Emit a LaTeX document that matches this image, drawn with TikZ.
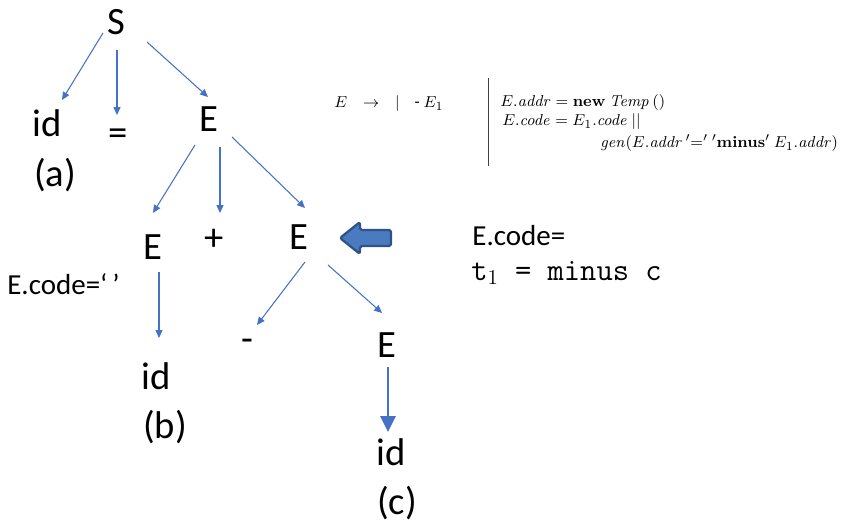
\documentclass[tikz,border=0pt]{standalone}
\usepackage{amsmath,amssymb}
\usepackage[no-math]{fontspec}
\setmainfont{Carlito}
\usepackage{tikz}
\usetikzlibrary{arrows.meta,calc}
\definecolor{linkblue}{RGB}{68,114,196}
\definecolor{pointerfill}{RGB}{74,122,192}
\definecolor{pointeredge}{RGB}{47,82,135}

\begin{document}
\begin{tikzpicture}[x=0.02cm, y=-0.02cm,
    sym/.style={inner sep=0pt, font=\fontsize{22}{26}\selectfont},
    note/.style={inner sep=0pt, anchor=west, font=\fontsize{16.5}{19}\selectfont},
    rule/.style={inner sep=0pt, anchor=west, font=\fontsize{9.5}{11}\selectfont},
    arrow/.style={line width=0.6pt, -{Triangle[length=4.5pt,width=4pt]}, color=linkblue},
    bigarrow/.style={line width=1.4pt, -{Triangle[length=9pt,width=8.5pt]}, color=linkblue},
    pointer/.style={fill=pointerfill, draw=pointeredge, line width=1.3pt, rounded corners=1pt, line join=round},
    rulebar/.style={line width=0.5pt, color=black!75}
]
    \useasboundingbox (0,0) rectangle (849,523);

    % parse tree
    \node[sym] (S) at (116,22) {S};
    \node[sym] (ida) at (47,123) {id};
    \node[sym] (pa) at (55,175) {(a)};
    \node[sym] (eq) at (118,137) {=};
    \node[sym] (e1) at (209,119) {E};
    \node[sym] (e2) at (153,247) {E};
    \node[sym] (plus) at (214,240) {+};
    \node[sym] (e3) at (299,237) {E};
    \node[sym] (idb) at (156,376) {id};
    \node[sym] (pb) at (165,427) {(b)};
    \node[sym] (minus) at (247,345) {-};
    \node[sym] (e4) at (387,345) {E};
    \node[sym] (idc) at (391,452) {id};
    \node[sym] (pc) at (397,503) {(c)};

    \draw[arrow] ([shift={(-13,11)}]S.center) -- ([shift={(15,-23)}]ida.center);
    \draw[arrow] ([shift={(1,28)}]S.center) -- ([shift={(-1,-22)}]eq.center);
    \draw[arrow] ([shift={(31,20)}]S.center) -- ([shift={(-1,-22)}]e1.center);
    \draw[arrow] ([shift={(-14,26)}]e1.center) -- ([shift={(0,-34)}]e2.center);
    \draw[arrow] ([shift={(11,28)}]e1.center) -- ([shift={(6,-27)}]plus.center);
    \draw[arrow] ([shift={(23,18)}]e1.center) -- ([shift={(6,-29)}]e3.center);
    \draw[arrow] ([shift={(6,25)}]e2.center) -- ([shift={(3,-38)}]idb.center);
    \draw[arrow] ([shift={(6,25)}]e3.center) -- ([shift={(10,-20)}]minus.center);
    \draw[arrow] ([shift={(29,28)}]e3.center) -- ([shift={(-5,-32)}]e4.center);
    \draw[bigarrow] ([shift={(1,22)}]e4.center) -- ([shift={(-3,-20)}]idc.center);

    % attribute values
    \node[note] (codeb) at (7,284) {E.code=‘\,’};
    \node[note] (codec) at (472,236) {E.code=};
    \node[inner sep=0pt, anchor=west, font=\fontsize{18}{20}\selectfont] (tac) at (471,273) {\texttt{t}$_1$\texttt{ = minus c}};

    % pointer to the E being reduced
    \draw[pointer] (391,230) -- (360,230) -- (360,222) -- (340,238) -- (360,254) -- (360,246) -- (391,246) -- cycle;

    % translation scheme
    \node[rule] (prod) at (334,104) {$E\ \ \ \rightarrow\ \ \ |\ \ \ \ \mbox{-}\ E_1$};
    \coordinate (bartop) at (488,78);
    \coordinate (barbot) at (488,166);
    \draw[rulebar] (bartop) -- (barbot);
    \node[rule] (act1) at (500,103) {$E.\mathit{addr} = \mathbf{new}\ \mathit{Temp}\,()$};
    \node[rule] (act2) at (502,122) {$E.\mathit{code} = E_1.\mathit{code}\ ||$};
    \node[rule] (act3) at (600,143) {$\mathit{gen}(E.\mathit{addr}\,{'}{=}{'}\ {'}\mathbf{minus}{'}\ E_1.\mathit{addr})$};
\end{tikzpicture}
\end{document}
